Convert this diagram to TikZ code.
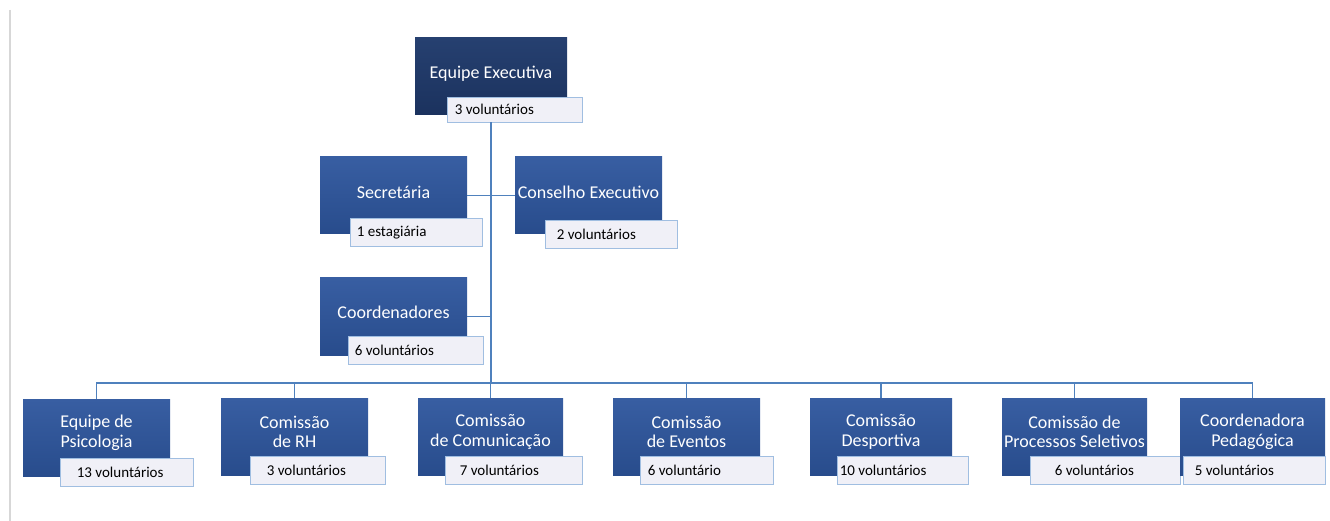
\documentclass[tikz,border=0pt]{standalone}
\usepackage{fontspec}
\setmainfont{Carlito}
\definecolor{boxtop}{RGB}{56,94,162}
\definecolor{boxbot}{RGB}{40,76,140}
\definecolor{navytop}{RGB}{38,64,112}
\definecolor{navybot}{RGB}{27,50,94}
\definecolor{labline}{RGB}{160,190,225}
\definecolor{labfill}{RGB}{240,240,247}
\definecolor{connc}{RGB}{79,129,189}
\definecolor{framec}{RGB}{215,215,215}
\begin{document}
\begin{tikzpicture}[x=1pt,y=-1pt,
  box/.style={draw=none, minimum width=147pt, minimum height=77pt, inner sep=0pt, top color=boxtop, bottom color=boxbot},
  navybox/.style={box, minimum width=152pt, top color=navytop, bottom color=navybot},
  lab/.style={draw=labline, line width=0.8pt, minimum height=28pt, minimum width=133pt, inner sep=0pt, fill=labfill},
  ttl/.style={text=white, font=\fontsize{18}{19.5}\selectfont, align=center, inner sep=0pt},
  ltx/.style={font=\fontsize{15}{17}\selectfont, anchor=west, inner sep=0pt},
  conn/.style={draw=connc, line width=1.8pt}]
\useasboundingbox (0,0) rectangle (1330,521);
\draw[framec, line width=1.5pt] (10,10) -- (10,521);

% top
\node[navybox] (top) at (491,76.5) {};
\node[ttl] (ttop) at ([yshift=3pt]top.center) {Equipe Executiva};
\node[lab, minimum width=135pt, minimum height=25pt] (topL) at (514.5,109.5) {};
\node[ltx] (ttopL) at ([xshift=8pt]topL.west) {3 voluntários};

% secretaria / conselho
\node[box] (sec) at (393.5,195.5) {};
\node[ttl] (tsec) at ([yshift=3pt]sec.center) {Secretária};
\node[lab, minimum width=132pt] (secL) at (416,232.5) {};
\node[ltx] (tsecL) at ([xshift=7pt]secL.west) {1 estagiária};

\node[box] (con) at (588.5,195.5) {};
\node[ttl] (tcon) at ([yshift=3pt]con.center) {Conselho Executivo};
\node[lab, minimum width=132pt] (conL) at (611,234.5) {};
\node[ltx] (tconL) at ([xshift=12pt]conL.west) {2 voluntários};

% coordenadores
\node[box] (coo) at (393.5,316.5) {};
\node[ttl] (tcoo) at ([yshift=4pt]coo.center) {Coordenadores};
\node[lab, minimum width=135pt] (cooL) at (415.5,350) {};
\node[ltx] (tcooL) at ([xshift=7pt]cooL.west) {6 voluntários};

% bottom row
\node[box] (b1) at (96.5,438) {};
\node[ttl] (tb1) at ([yshift=5pt]b1.center) {Equipe de\\Psicologia};
\node[lab] (b1L) at (126.5,472) {};
\node[ltx] (tb1L) at ([xshift=17pt]b1L.west) {13 voluntários};

\node[box] (b2) at (294.5,437) {};
\node[ttl] (tb2) at ([yshift=5pt]b2.center) {Comissão\\de RH};
\node[lab, minimum width=135pt] (b2L) at (317.5,470) {};
\node[ltx] (tb2L) at ([xshift=17pt]b2L.west) {3 voluntários};

\node[box, minimum width=145pt] (b3) at (490.5,437) {};
\node[ttl] (tb3) at ([yshift=5pt]b3.center) {Comissão\\de Comunicação};
\node[lab, minimum width=137pt] (b3L) at (513.5,470) {};
\node[ltx] (tb3L) at ([xshift=15pt]b3L.west) {7 voluntários};

\node[box] (b4) at (686.5,437) {};
\node[ttl] (tb4) at ([yshift=5pt]b4.center) {Comissão\\de Eventos};
\node[lab] (b4L) at (706.5,470) {};
\node[ltx] (tb4L) at ([xshift=8pt]b4L.west) {6 voluntário};

\node[box, minimum width=142pt] (b5) at (881,437) {};
\node[ttl] (tb5) at ([yshift=5pt]b5.center) {Comissão\\Desportiva};
\node[lab, minimum width=131pt] (b5L) at (902.5,470) {};
\node[ltx] (tb5L) at ([xshift=3pt]b5L.west) {10 voluntários};

\node[box, minimum width=145pt] (b6) at (1074.5,437) {};
\node[ttl] (tb6) at ([yshift=5pt]b6.center) {Comissão de\\Processos Seletivos};
\node[lab, minimum width=150pt] (b6L) at (1105,470) {};
\node[ltx] (tb6L) at ([xshift=25pt]b6L.west) {6 voluntários};

\node[box, minimum width=145pt] (b7) at (1252.5,437) {};
\node[ttl] (tb7) at ([yshift=5pt]b7.center) {Coordenadora\\Pedagógica};
\node[lab, minimum width=142pt] (b7L) at (1254,470) {};
\node[ltx] (tb7L) at ([xshift=12pt]b7L.west) {5 voluntários};

% connectors
\coordinate (bus) at (0,383);
\draw[conn] (top.south |- topL.south) -- (top.south |- bus);
\draw[conn] (sec.east) -- (con.west);
\draw[conn] (coo.east) -- (coo.east -| top.south);
\draw[conn] (b1.north) -- (b1.north |- bus) -- (b7.north |- bus) -- (b7.north);
\foreach \b in {b2,b3,b4,b5,b6}{
  \draw[conn] (\b.north) -- (\b.north |- bus);
}
\end{tikzpicture}
\end{document}
